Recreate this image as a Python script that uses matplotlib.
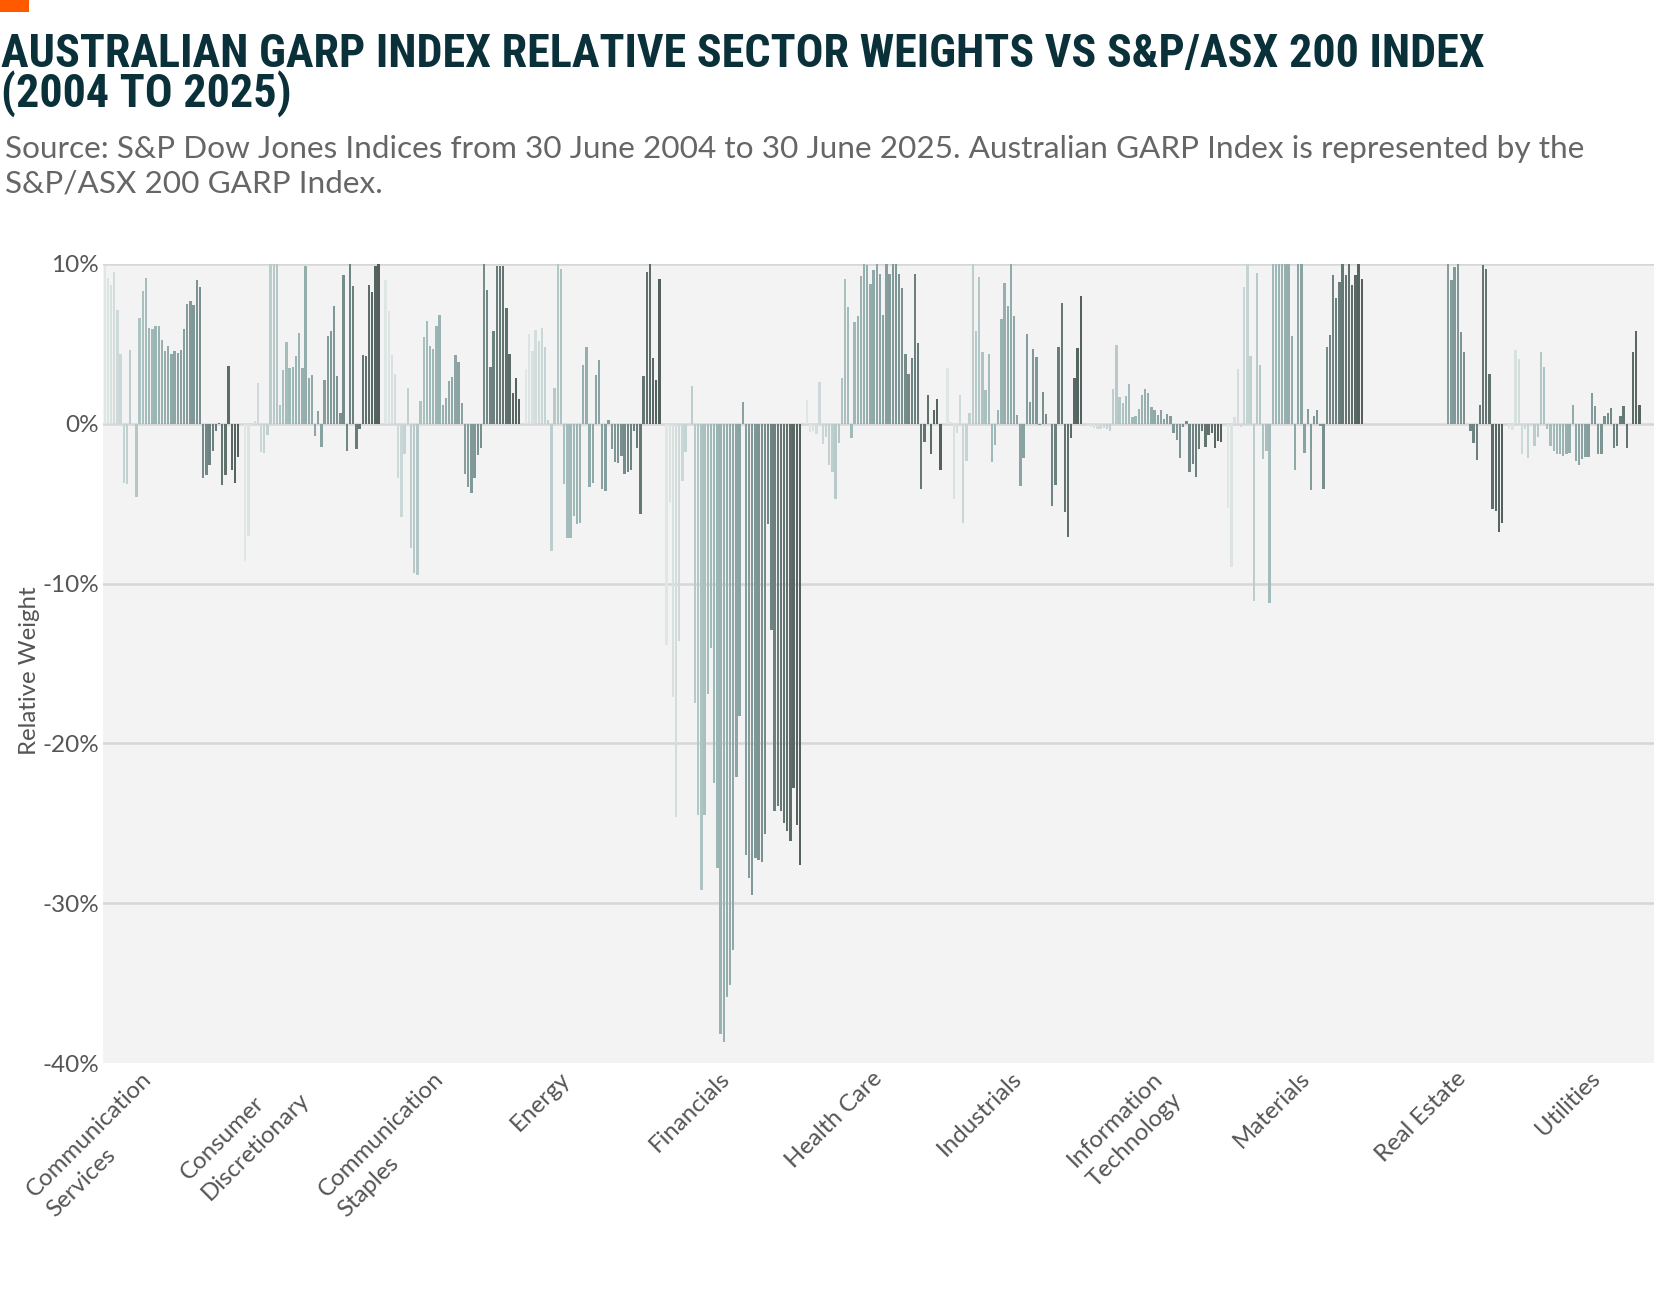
import numpy as np
import matplotlib
matplotlib.use("Agg")
import matplotlib.pyplot as plt
from matplotlib import font_manager
from matplotlib.colors import LinearSegmentedColormap
from matplotlib.patches import Rectangle

# sector labels as printed on the chart (the original says "Communication Staples")
sectors = ["Communication\nServices", "Consumer\nDiscretionary", "Communication\nStaples",
           "Energy", "Financials", "Health Care", "Industrials", "Information\nTechnology",
           "Materials", "Real Estate", "Utilities"]

# semi-annual rebalances, Jun 2004 .. Jun 2025 (43 dates)
periods = [f"{m} {y}" for y in range(2004, 2026) for m in ("Jun", "Dec")][:43]

# relative weight (%) per rebalance date, one list per sector
comm_services = [9.9, 9.14, 8.7, 9.5, 7.1, 4.37, -3.68, -3.79, 4.6, 0, -4.58, 6.64, 8.32, 9.15,
                 6.0, 5.96, 6.1, 6.1, 5.27, 4.55, 4.85, 4.37, 4.55, 4.45, 4.64, 5.93, 7.52, 7.7,
                 7.45, 8.99, 8.53, -3.41, -3.2, -2.57, -1.69, -0.44, 0.08, -3.83, -3.2, 3.62,
                 -2.91, -3.72, -2.07]
cons_disc = [-8.56, -7.03, -0.12, 0.2, 2.57, -1.74, -1.8, -0.73, 10.8, 10.8, 10.8, 1.19, 3.35,
             5.13, 3.52, 3.56, 4.23, 5.7, 3.5, 9.9, 2.89, 3.04, -0.78, 0.78, -1.47, 2.72, 5.49,
             5.83, 7.4, 2.99, 0.67, 9.3, -1.72, 10.0, 8.62, -1.57, -0.31, 4.28, 4.23, 8.7, 8.22,
             9.85, 10.1]
cons_staples = [8.97, 7.05, 4.29, 3.1, -3.41, -5.84, -1.9, 2.22, -7.8, -9.33, -9.44, 1.44, 5.42,
                6.46, 4.87, 4.67, 6.1, 6.78, 1.19, 1.59, 2.7, 2.9, 4.33, 3.85, 1.28, -3.16, -3.95,
                -4.33, -3.37, -1.97, -1.49, 10.5, 8.4, 3.54, 5.8, 9.9, 9.85, 9.85, 7.26, 4.37,
                1.9, 2.87, 1.57]
energy = [3.45, 5.6, 4.56, 5.9, 5.2, 6.0, 4.82, 0.25, -7.93, 2.24, 10.3, 9.7, -3.78, -7.13,
          -7.15, -5.8, -6.3, -6.23, 3.65, 4.82, -3.93, -3.72, 3.08, 3.97, -4.1, -4.2, 0.26,
          -1.58, -2.36, -2.46, -2.0, -3.17, -2.99, -2.92, -0.45, -1.5, -5.67, 3.0, 9.5, 10.1,
          4.1, 2.72, 9.05]
financials = [-13.86, -4.87, -17.1, -24.6, -13.6, -3.56, -1.76, 0, 2.35, -17.5, -24.5, -29.2,
              -24.5, -16.9, -14.0, -22.5, -27.8, -38.2, -38.7, -35.9, -35.1, -32.9, -22.1, -18.3,
              1.34, -27.0, -28.4, -29.5, -27.2, -27.3, -27.4, -25.7, -6.3, -12.9, -24.2, -23.9,
              -24.2, -25.0, -25.5, -26.1, -22.8, -25.1, -27.6]
health_care = [1.47, -0.52, -0.48, -0.63, 2.62, -1.28, -0.84, -2.58, -3.0, -4.7, -1.2, 2.89,
               9.08, 7.34, -0.86, 6.35, 6.73, 9.22, 10.5, 9.92, 8.76, 9.62, 10.5, 9.37, 6.81,
               10.5, 9.37, 10.5, 10.5, 9.37, 8.49, 4.36, 3.1, 4.13, 9.37, 5.03, -4.1, -1.15,
               1.78, -1.89, 0.84, 1.53, -2.87]
industrials = [3.5, 0.1, -4.7, -0.6, 1.8, -6.2, -2.3, 0.67, 10.5, 5.8, 9.2, 4.5, 2.1, 4.36, -2.4,
               -1.3, 0.84, 6.54, 8.8, 7.4, 10.5, 6.77, 0.52, -3.88, -2.14, 5.6, 1.36, 4.65, 4.19,
               -0.06, 2.0, 0.63, 0, -5.14, -3.84, 4.82, 7.55, -5.5, -7.06, -0.88, 2.87, 4.72,
               7.97]
info_tech = [-0.1, -0.2, -0.25, -0.3, -0.3, -0.25, -0.3, -0.45, 2.2, 4.9, 1.68, 1.3, 1.74, 2.5,
             0.42, 0.48, 0.9, 1.78, 2.16, 1.9, 1.05, 0.84, 0.57, 0.88, 0.27, 0.59, 0.48, -0.59,
             -0.99, -2.12, -0.17, 0.15, -3.0, -2.54, -3.31, -1.57, -0.44, -1.47, -0.69, -0.57,
             -1.5, -1.09, -1.15]
materials = [-5.24, -8.95, 0.42, 3.4, -0.2, 8.53, 10.5, 4.25, -11.1, 9.43, 3.67, -2.2, -1.68,
             -11.2, 10.5, 10.5, 10.5, 10.5, 10.5, 10.5, 5.5, -2.87, 10.5, 10.5, -1.82, 0.9,
             -4.15, 0.48, 0.84, -0.15, -4.05, 4.78, 5.55, 9.33, 7.86, 8.87, 10.0, 9.33, 10.0,
             8.7, 9.33, 10.0, 9.08]
real_estate = [0] * 25 + [10.5, 9.0, 9.8, 10.5, 5.77, 4.5, 0, -0.42, -1.2, -2.24, 1.19, 9.92,
                          9.69, 3.14, -5.35, -5.45, -6.77, -6.18]
utilities = [-0.3, -0.4, 4.6, 4.05, -1.9, -0.3, -2.16, 0, -1.36, -0.84, 4.5, 3.57, -0.3, -1.4,
             -1.7, -1.9, -1.9, -2.0, -1.9, -1.8, 1.2, -2.3, -2.6, -2.2, -2.1, -2.1, 1.9, 1.1,
             -1.9, -1.9, 0.5, 0.7, 1.0, -1.5, -1.4, 0.5, 1.1, -1.5, 0, 4.5, 5.8, 1.2, 0]

weights = np.array([comm_services, cons_disc, cons_staples, energy, financials, health_care,
                    industrials, info_tech, materials, real_estate, utilities])

# where the rotated category labels sit (pixel x of each label's centre)
label_px = [99, 245, 391, 540, 690, 834, 980, 1125, 1272, 1421, 1568]

ttf = font_manager.fontManager.ttflist
names = {f.name for f in ttf}
title_kw = {"family": "Roboto"}
for cand in ["Roboto Condensed", "Liberation Sans Narrow", "Open Sans Condensed", "Arial Narrow"]:
    if cand in names:
        title_kw = {"family": cand}
        break
else:
    if any(f.name == "DejaVu Sans" and f.stretch == "condensed" for f in ttf):
        title_kw = {"family": "DejaVu Sans", "fontstretch": "condensed"}
body = "Lato"

W, H = 1667, 1289
fig = plt.figure(figsize=(W / 100, H / 100), dpi=100)

# plot area in pixels: left 103, right 1654, top 264, bottom 1063
L, R, T, B = 103, 1654, 264, 1063
ax = fig.add_axes([L / W, 1 - B / H, (R - L) / W, (B - T) / H])
ax.set_facecolor("#f3f3f3")

cmap = LinearSegmentedColormap.from_list("garp", ["#dfe7e6", "#a0bab9", "#7f9897", "#53605d"])
colors = cmap(np.linspace(0, 1, len(periods)))

sector_px = 140.45
pitch = 3.177 / sector_px
n = len(periods)
x0 = np.arange(len(sectors))
for k in range(n):
    ax.bar(x0 + (k - (n - 1) / 2) * pitch, weights[:, k], width=pitch * 0.74,
           color=colors[k], zorder=3, linewidth=0)

left = -(n - 1) / 2 * pitch - 1.7 / sector_px
ax.set_xlim(left, left + (R - L) / sector_px)
ax.set_ylim(-40, 10)
ax.set_yticks([10, 0, -10, -20, -30, -40])
ax.set_yticklabels(["10%", "0%", "-10%", "-20%", "-30%", "-40%"])
for y in [10, 0, -10, -20, -30]:
    ax.axhline(y, color="#d6d6d6", lw=1.8, zorder=1)
for s in ax.spines.values():
    s.set_visible(False)
ax.tick_params(axis="y", length=0, pad=3, labelsize=17.5, labelcolor="#555555")
ax.set_xticks([])
for lab in ax.get_yticklabels():
    lab.set_fontfamily(body)

# rotated category labels under the plot
for px, name in zip(label_px, sectors):
    ax.text((px - L) / (R - L), -5 / (B - T), name, transform=ax.transAxes, rotation=45,
            ha="center", va="top", multialignment="left", linespacing=1.45,
            fontsize=17.3, color="#555555", family=body)

fig.text(29 / W, 1 - 671 / H, "Relative Weight", rotation=90, ha="center", va="center",
         fontsize=17.3, color="#555555", family=body)

fig.patches.append(Rectangle((0, 1 - 12 / H), 29 / W, 12 / H, transform=fig.transFigure,
                             facecolor="#ff5a00", edgecolor="none"))
# y is the baseline of the last line of each block
title = fig.text(1 / W, 1 - 107 / H,
                 "AUSTRALIAN GARP INDEX RELATIVE SECTOR WEIGHTS VS S&P/ASX 200 INDEX\n(2004 TO 2025)",
                 fontsize=32, fontweight="bold", color="#0a3139", va="baseline", **title_kw)
source = fig.text(5 / W, 1 - 193 / H,
                  "Source: S&P Dow Jones Indices from 30 June 2004 to 30 June 2025. "
                  "Australian GARP Index is represented by the\nS&P/ASX 200 GARP Index.",
                  fontsize=22, color="#666666", family=body, va="baseline")

# fit the heading blocks to the width and line gap they have in the original
renderer = fig.canvas.get_renderer()
for txt, target_w, target_gap in [(title, 1488, 40), (source, 1572, 37)]:
    full = txt.get_text()
    w = txt.get_window_extent(renderer).width
    txt.set_fontsize(min(txt.get_fontsize() * target_w / w, txt.get_fontsize() * 1.1))
    txt.set_linespacing(1.0)
    h2 = txt.get_window_extent(renderer).height
    txt.set_text(full.split("\n")[0])
    h1 = txt.get_window_extent(renderer).height
    txt.set_text(full)
    txt.set_linespacing(target_gap / (h2 - h1))

fig.savefig("out.png", dpi=100)
